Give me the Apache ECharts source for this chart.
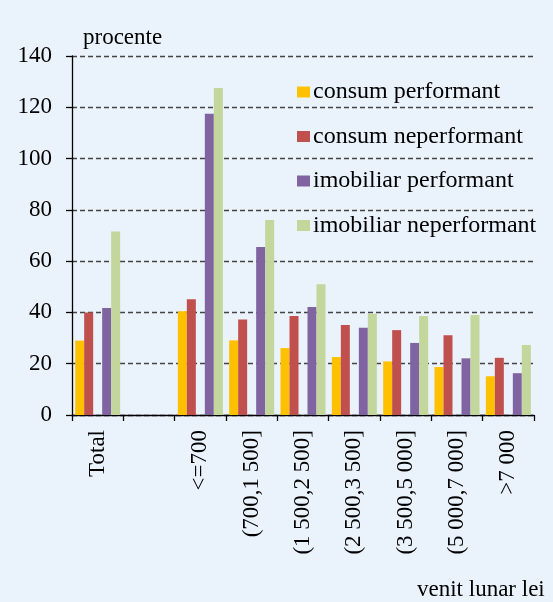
<!DOCTYPE html>
<html>
<head>
<meta charset="utf-8">
<script src="https://cdn.jsdelivr.net/npm/echarts@6/dist/echarts.min.js"></script>
<style>
  html, body { margin: 0; padding: 0; background: #EAF2FB; }
  #chart { width: 553px; height: 602px; }
</style>
</head>
<body>
<div id="chart"></div>
<script>
// Income brackets (lei / month); the blank entry separates the total from the brackets
const categories = ['Total', '', '<=700', '(700,1 500]', '(1 500,2 500]', '(2 500,3 500]', '(3 500,5 000]', '(5 000,7 000]', '>7 000'];

// Values in percent
const consumPerformant    = [29.0, null, 40.5, 29.1, 26.1, 22.6, 20.9, 18.7, 15.1];
const consumNeperformant  = [40.0, null, 45.1, 37.2, 38.6, 35.1, 33.1, 31.1, 22.3];
const imobPerformant      = [41.7, null, 117.5, 65.5, 42.1, 34.0, 28.1, 22.1, 16.3];
const imobNeperformant    = [71.6, null, 127.5, 76.0, 51.0, 39.5, 38.6, 39.0, 27.3];

const seriesNames = ['consum performant', 'consum neperformant', 'imobiliar performant', 'imobiliar neperformant'];
const seriesColors = ['#FFC000', '#C0504D', '#8064A2', '#C3D69B'];

const yTicks = { min: 0, max: 140, interval: 20 };

const FONT = "'Liberation Serif', 'Times New Roman', serif";

const chart = echarts.init(document.getElementById('chart'), null, { renderer: 'canvas' });

function bar(name, data, color) {
  return {
    name: name,
    type: 'bar',
    data: data,
    barWidth: 9,
    barGap: '0%',
    itemStyle: { color: color },
    emphasis: { disabled: true }
  };
}

chart.setOption({
  backgroundColor: '#EAF2FB',
  animation: false,
  grid: { left: 72, right: 19, top: 56, bottom: 187 },
  legend: {
    data: seriesNames,
    orient: 'vertical',
    left: 297,
    top: 80,
    padding: 0,
    itemWidth: 13,
    itemHeight: 11,
    itemGap: 20.5,
    icon: 'rect',
    textStyle: { fontFamily: FONT, fontSize: 24, color: '#000', padding: [0, 0, 0, -2], lineHeight: 24 },
    selectedMode: false
  },
  xAxis: {
    type: 'category',
    data: categories,
    boundaryGap: true,
    axisLine: { lineStyle: { color: '#000', width: 1.3 } },
    axisTick: { show: true, length: 6, lineStyle: { color: '#000', width: 1.3 } },
    axisLabel: {
      rotate: 90,
      interval: 0,
      margin: 15,
      color: '#000',
      fontFamily: FONT,
      fontSize: 23
    }
  },
  yAxis: {
    type: 'value',
    min: yTicks.min,
    max: yTicks.max,
    interval: yTicks.interval,
    axisLine: { show: true, lineStyle: { color: '#000', width: 1.3 } },
    axisTick: { show: true, length: 6, lineStyle: { color: '#000', width: 1.3 } },
    axisLabel: { color: '#000', fontFamily: FONT, fontSize: 23, margin: 20 },
    splitLine: { lineStyle: { color: '#444', type: [5, 3], width: 1.3 } }
  },
  graphic: [
    {
      type: 'text',
      left: 83,
      top: 26,
      style: { text: 'procente', font: "23px " + FONT, fill: '#000' }
    },
    {
      type: 'text',
      left: 417,
      top: 578,
      style: { text: 'venit lunar lei', font: "23px " + FONT, fill: '#000' }
    }
  ],
  series: [
    bar(seriesNames[0], consumPerformant, seriesColors[0]),
    bar(seriesNames[1], consumNeperformant, seriesColors[1]),
    { name: 'spacer', type: 'bar', data: categories.map(() => null), barWidth: 9, barGap: '0%', silent: true },
    bar(seriesNames[2], imobPerformant, seriesColors[2]),
    bar(seriesNames[3], imobNeperformant, seriesColors[3])
  ]
});
</script>
</body>
</html>
